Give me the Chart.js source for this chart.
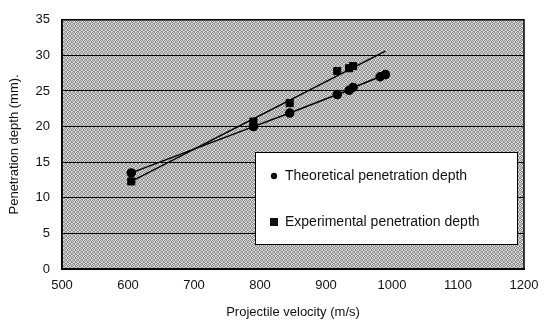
<!DOCTYPE html>
<html lang="en">
  <head>
    <title>Penetration depth vs projectile velocity</title>
    <meta charset="UTF-8" />
    <script src="https://cdn.jsdelivr.net/npm/chart.js@4/dist/chart.umd.min.js"></script>
    <style>
      html, body { margin: 0; padding: 0; background: #fff; }
      #wrap { width: 544px; height: 332px; }
    </style>
  </head>
  <body>
    <div id="wrap"><canvas id="grafico"></canvas></div>
    <script>
      // velocidades (m/s) e profundidades (mm)
      const theoV = [605, 790, 845, 917, 935, 941, 982, 990];
      const theoD = [13.5, 20.0, 21.9, 24.5, 25.1, 25.5, 27.0, 27.3];
      const expV = [605, 790, 845, 917, 935, 941];
      const expD = [12.3, 20.7, 23.3, 27.8, 28.2, 28.5];
      // linha de tendencia dos experimentais (pontos extremos)
      const trendV = [605, 990];
      const trendD = [12.3, 30.6];
      const xTicks = [500, 600, 700, 800, 900, 1000, 1100, 1200];
      const yTicks = [0, 5, 10, 15, 20, 25, 30, 35];

      function pts(xs, ys) {
        return xs.map(function (x, i) { return { x: x, y: ys[i] }; });
      }

      // fundo pontilhado cinza
      const pat = document.createElement('canvas');
      pat.width = 4; pat.height = 4;
      const pc = pat.getContext('2d');
      pc.fillStyle = '#dcdcdc'; pc.fillRect(0, 0, 4, 4);
      pc.fillStyle = '#8a8a8a';
      [[0, 0], [2, 0], [1, 1], [3, 1], [0, 2], [3, 2], [1, 3], [2, 3]].forEach(function (p) {
        pc.fillRect(p[0], p[1], 1, 1);
      });

      const fundo = {
        id: 'fundo',
        beforeDraw(chart) {
          const a = chart.chartArea, ctx = chart.ctx;
          ctx.save();
          ctx.fillStyle = ctx.createPattern(pat, 'repeat');
          ctx.fillRect(a.left, a.top, a.right - a.left, a.bottom - a.top);
          ctx.restore();
        },
        afterDraw(chart) {
          const a = chart.chartArea, ctx = chart.ctx;
          ctx.save();
          ctx.strokeStyle = '#000';
          ctx.lineWidth = 1.5;
          ctx.strokeRect(a.left, a.top, a.right - a.left, a.bottom - a.top);
          // legenda
          const lx = 255, ly = 152, lw = 262, lh = 92;
          ctx.fillStyle = '#fff';
          ctx.fillRect(lx, ly, lw, lh);
          ctx.lineWidth = 1;
          ctx.strokeRect(lx + 0.5, ly + 0.5, lw, lh);
          ctx.fillStyle = '#111';
          ctx.font = '14px "Liberation Sans", Arial, sans-serif';
          ctx.textBaseline = 'middle';
          ctx.beginPath();
          ctx.arc(274, 176, 3.2, 0, Math.PI * 2);
          ctx.fill();
          ctx.fillText(chart.data.datasets[0].label, 285, 176);
          ctx.fillRect(270, 218, 8, 8);
          ctx.fillText(chart.data.datasets[1].label, 285, 222);
          ctx.restore();
        },
      };

      const fonte = { family: '"Liberation Sans", Arial, sans-serif', size: 13 };

      new Chart(document.getElementById('grafico'), {
        type: 'scatter',
        data: {
          datasets: [
            {
              label: 'Theoretical penetration depth',
              data: pts(theoV, theoD),
              showLine: true,
              borderColor: '#000',
              backgroundColor: '#000',
              borderWidth: 1.5,
              pointStyle: 'circle',
              pointRadius: 4,
            },
            {
              label: 'Experimental penetration depth',
              data: pts(expV, expD),
              showLine: false,
              borderColor: '#000',
              backgroundColor: '#000',
              pointStyle: 'rect',
              pointRadius: 5,
            },
            {
              label: 'trend',
              data: pts(trendV, trendD),
              showLine: true,
              borderColor: '#000',
              borderWidth: 1.5,
              pointRadius: 0,
            },
          ],
        },
        options: {
          responsive: true,
          maintainAspectRatio: false,
          animation: false,
          layout: { padding: { left: 0, top: 15, right: 20, bottom: 0 } },
          plugins: { legend: { display: false }, tooltip: { enabled: false } },
          scales: {
            x: {
              type: 'linear',
              min: xTicks[0],
              max: xTicks[xTicks.length - 1],
              afterBuildTicks(s) { s.ticks = xTicks.map(function (v) { return { value: v }; }); },
              afterFit(s) { s.height = 63; s.paddingRight = 0; s.paddingLeft = 0; },
              grid: { display: false, drawTicks: false },
              border: { display: true, color: '#000', width: 2 },
              ticks: { color: '#111', font: fonte, padding: 9, maxRotation: 0, callback: function (v) { return String(v); } },
              title: { display: true, text: 'Projectile velocity (m/s)', color: '#111', font: fonte, padding: { top: 0, bottom: 12 } },
            },
            y: {
              min: yTicks[0],
              max: yTicks[yTicks.length - 1],
              afterBuildTicks(s) { s.ticks = yTicks.map(function (v) { return { value: v }; }); },
              afterFit(s) { s.width = 62; },
              grid: { color: '#000', lineWidth: 1, drawTicks: false },
              border: { display: true, color: '#000', width: 1.5 },
              ticks: { color: '#111', font: fonte, padding: 12, callback: function (v) { return String(v); } },
              title: { display: true, text: 'Penetration depth (mm).', color: '#111', font: fonte, padding: { top: 7, bottom: 0 } },
            },
          },
        },
        plugins: [fundo],
      });
    </script>
  </body>
</html>
